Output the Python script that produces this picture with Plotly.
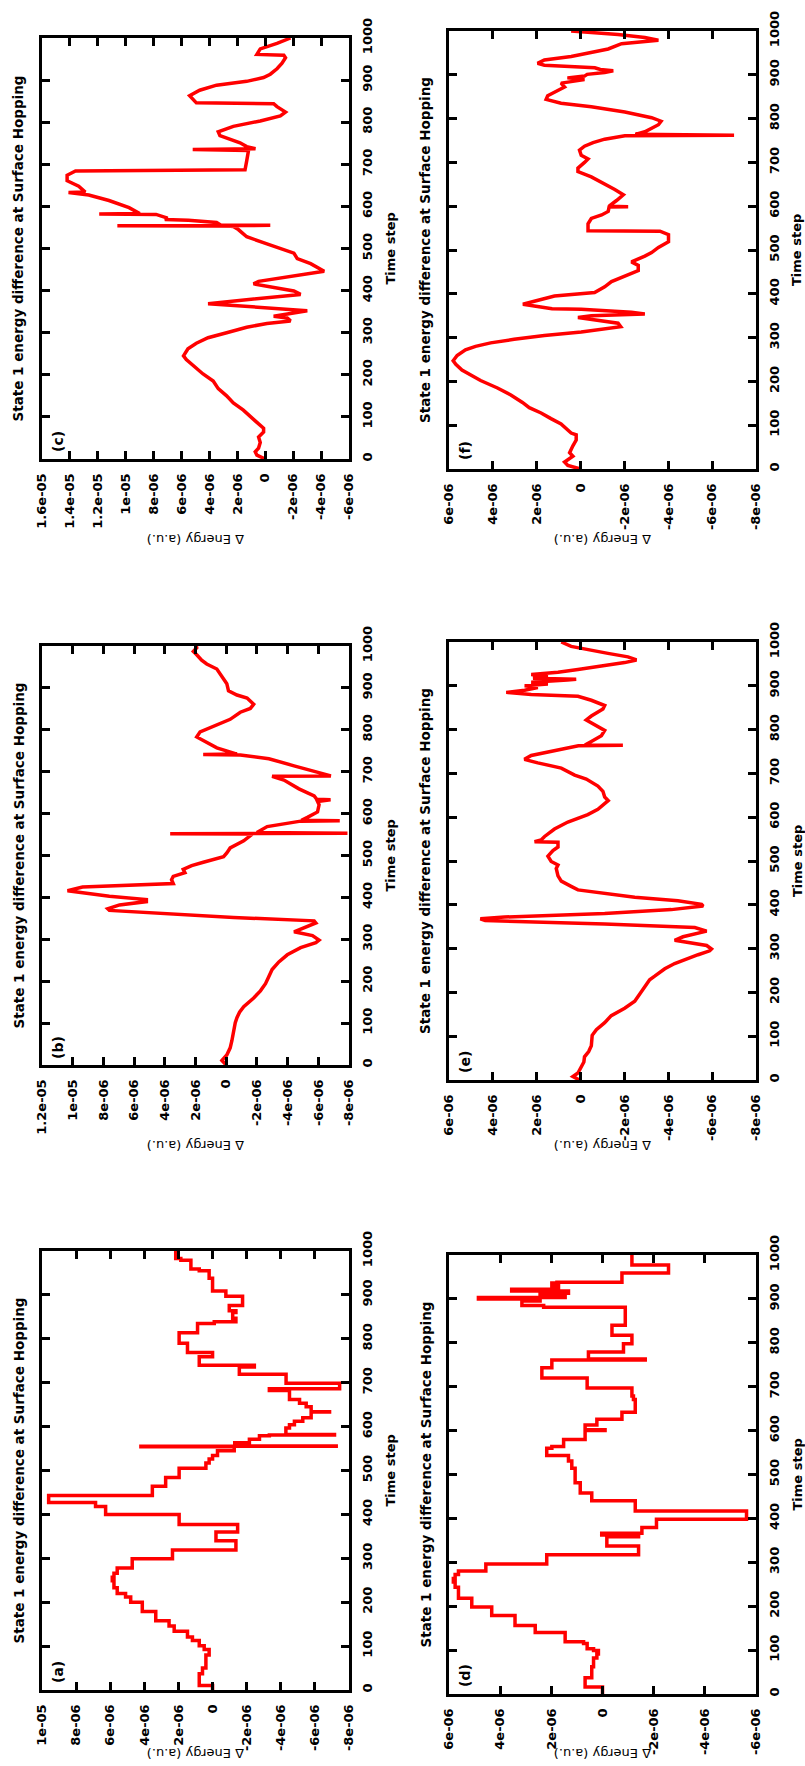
import plotly.graph_objects as go

W, H = 805, 1766

# ---------------- data (time step, energy in 1e-6 a.u.) ----------------
c_t = [0, 9, 17, 26, 39, 52, 64, 73, 94, 116, 133, 150, 167, 185, 202, 219, 236, 245, 262, 275,
       288, 300, 313, 322, 328, 335, 339, 352, 369, 391, 399, 416, 422, 446, 464, 476, 489, 511,
       528, 545, 552, 553, 554, 555, 556, 562, 567, 569, 572, 581, 582, 583, 597, 614, 627, 633,
       634, 648, 661, 674, 684, 687, 708, 725, 733, 735, 737, 742, 751, 768, 777, 790, 803, 815,
       824, 837, 844, 846, 863, 876, 888, 897, 906, 914, 927, 940, 953, 959, 961, 974, 987, 1000]
c_e = [0, 0.60, 0.72, 0.48, 0.36, 0.48, 0.12, 0.12, 0.84, 1.57, 2.29, 2.77, 3.37, 3.73, 4.46, 5.06,
       5.66, 5.86, 5.54, 4.94, 4.10, 2.77, 1.33, -0.12, -1.81, -1.57, -0.60, -3.01, 4.10, -2.53,
       -2.05, 0.84, 0.48, -4.22, -3.25, -2.29, -2.05, -0.12, 1.33, 1.93, 2.29, 2.5, 10.6, -0.36, 3.2,
       3.49, 5.5, 7.2, 7.0, 7.83, 11.9, 9.0, 9.76, 11.2, 12.65, 14.1, 12.9, 13.37, 14.2, 14.2, 13.6,
       1.45, 1.33, 1.2, 1.2, 5.2, 0.7, 1.33, 1.81, 3.25, 3.37, 2.29, 0.36, -1.08, -1.45, -0.84,
       -0.60, 4.94, 5.42, 4.70, 3.49, 1.33, 0.12, -0.36, -0.84, -1.20, -1.45, -1.33, 0.60, 0.36,
       -0.84, -1.81]

b_t = [0, 11, 24, 41, 58, 84, 101, 113, 126, 139, 160, 177, 194, 211, 228, 246, 263, 280, 292, 298,
       309, 318, 327, 339, 344, 352, 369, 373, 382, 390, 395, 403, 416, 425, 433, 442, 450, 459,
       467, 476, 484, 497, 506, 518, 535, 544, 551, 552, 553, 555, 565, 569, 582, 583, 584, 591,
       604, 621, 629, 633, 634, 642, 659, 680, 689, 690, 702, 714, 731, 740, 741, 742, 757, 774,
       783, 795, 808, 825, 842, 851, 861, 876, 883, 893, 910, 927, 945, 957, 966, 979, 987, 996, 1000]
b_e = [0, 0.28, -0.04, -0.26, -0.37, -0.48, -0.59, -0.70, -0.87, -1.14, -1.79, -2.23, -2.56, -2.78,
       -2.99, -3.43, -3.98, -4.85, -5.84, -6.05, -5.62, -4.42, -5.07, -5.84, -5.73, -0.48, 7.61,
       7.72, 6.95, 5.20, 5.20, 7.61, 10.34, 9.36, 3.45, 3.56, 3.45, 2.69, 2.80, 2.25, 1.49, 0.17,
       -0.04, -0.26, -1.14, -1.46, -1.7, 3.65, -7.9, -2.0, -2.45, -2.67, -4.85, -7.4, -4.9, -5.29,
       -5.95, -6.05, -5.95, -6.8, -5.9, -5.73, -4.74, -3.76, -2.99, -6.82, -5.51, -4.42, -2.78,
       -0.92, 1.5, -0.7, 0.61, 1.49, 1.92, 1.70, 0.83, -0.26, -0.92, -1.57, -1.79, -1.36, -0.70,
       -0.15, -0.04, 0.28, 0.61, 1.27, 1.60, 1.92, 2.14, 1.92, 1.95]

# step series: level starts at time t
a_t = [0, 10, 37, 50, 80, 92, 101, 113, 121, 134, 146, 158, 179, 200, 212, 220, 233, 249, 257, 266,
       278, 299, 319, 340, 360, 377, 400, 418, 427, 443, 464, 484, 505, 517, 526, 534, 545, 554,
       555, 556, 563, 571, 579, 581, 582, 597, 604, 612, 620, 633, 634, 645, 653, 662, 682, 686,
       699, 719, 736, 740, 759, 769, 790, 814, 835, 839, 847, 860, 864, 876, 897, 909, 938, 955,
       959, 979, 983, 1000]
a_e = [0, 0.78, 0.59, 0.39, 0.20, 0.49, 0.78, 1.18, 1.47, 2.25, 2.55, 3.33, 4.12, 4.80, 5.10, 5.59,
       5.78, 5.88, 5.78, 5.59, 4.71, 2.35, -1.37, -0.20, -1.47, 1.96, 6.27, 6.86, 9.61, 3.53, 2.75,
       1.96, 0.39, 0.20, 0.0, -0.29, -1.27, 4.2, -7.25, -1.3, -2.16, -2.75, -3.33, -7.15, -4.3,
       -4.51, -4.80, -5.29, -5.78, -6.86, -5.78, -5.49, -5.10, -4.51, -3.33, -7.45, -4.31, -1.57,
       -2.45, 0.78, 0.0, 1.47, 1.96, 0.88, -0.10, -1.37, -1.18, -1.37, -0.98, -1.76, -0.78, 0.0,
       0.20, 0.78, 1.27, 1.86, 2.16, 2.16]

f_t = [0, 8, 16, 21, 29, 37, 45, 53, 66, 78, 82, 95, 103, 115, 128, 140, 152, 169, 185, 202, 214,
       226, 239, 247, 259, 272, 280, 288, 296, 305, 313, 321, 325, 333, 342, 346, 350, 354, 358,
       365, 366, 370, 376, 383, 395, 403, 416, 428, 440, 453, 465, 473, 486, 494, 506, 519, 535,
       543, 544, 560, 572, 580, 588, 598, 599, 600, 613, 626, 638, 650, 667, 679, 687, 700, 708,
       716, 728, 737, 745, 753, 761, 762, 764, 770, 778, 786, 794, 802, 815, 827, 835, 844, 852,
       864, 872, 881, 885, 889, 893, 897, 901, 905, 909, 912, 916, 922, 926, 934, 942, 951, 959,
       971, 979, 985, 992, 1000]
f_e = [0, 0.58, 0.73, 0.58, 0.35, 0.50, 0.43, 0.35, 0.20, 0.20, 0.43, 0.73, 0.89, 1.35, 1.80, 2.34,
       2.65, 3.18, 3.79, 4.56, 5.02, 5.41, 5.69, 5.81, 5.63, 5.25, 4.79, 4.10, 3.03, 1.65, -0.03,
       -1.41, -1.83, -1.71, -0.49, 0.12, -0.49, -2.93, -2.32, -0.03, 1.3, 1.96, 2.63, 2.11, 1.19,
       -0.64, -1.10, -1.41, -2.02, -2.63, -2.63, -2.32, -2.93, -3.24, -3.55, -4.01, -4.01, -3.62,
       -0.34, -0.34, -0.49, -0.96, -1.26, -1.3, -2.17, -1.3, -1.64, -1.95, -1.56, -1.10, -0.49,
       0.12, 0.12, -0.18, -0.34, -0.03, 0.05, -0.18, -0.57, -1.10, -2.02, -7.0, -2.5, -2.93, -3.24,
       -3.55, -3.67, -3.24, -2.02, -0.49, 0.89, 1.57, 1.50, 1.04, 0.73, 0.89, 0.3, -0.18, 0.6,
       -0.18, -0.3, -1.10, -1.49, -0.9, -0.65, 1.65, 1.96, 1.65, 0.43, -0.49, -1.26, -1.87, -3.55,
       -2.93, -1.71, 0.43]

e_t = [0, 8, 16, 29, 41, 53, 65, 78, 94, 102, 115, 131, 147, 164, 180, 196, 213, 229, 237, 254, 266,
       278, 286, 295, 299, 307, 315, 319, 327, 335, 340, 348, 356, 364, 368, 372, 380, 389, 397,
       401, 409, 417, 426, 434, 442, 454, 466, 483, 491, 499, 511, 524, 532, 543, 544, 548, 556,
       573, 589, 599, 606, 618, 630, 638, 646, 659, 671, 687, 696, 712, 724, 732, 741, 749, 761,
       763, 764, 765, 773, 786, 798, 810, 822, 831, 847, 855, 867, 876, 880, 885, 890, 896, 900,
       904, 908, 913, 915, 917, 921, 926, 931, 937, 945, 953, 959, 966, 974, 982, 990, 1000]
e_e = [0.05, 0.35, 0.12, -0.03, -0.15, -0.18, -0.37, -0.49, -0.49, -0.53, -0.72, -1.10, -1.40,
       -2.01, -2.47, -2.70, -2.92, -3.15, -3.38, -3.84, -4.29, -4.90, -5.36, -5.89, -5.97, -5.75,
       -4.60, -4.29, -4.67, -5.36, -5.75, -5.21, -1.10, 4.35, 4.57, 3.47, -1.10, -4.14, -5.59,
       -5.52, -4.44, -2.47, -1.10, 0.12, 0.43, 0.88, 1.03, 1.11, 1.03, 1.34, 1.49, 1.26, 1.03, 1.03,
       2.10, 1.80, 1.64, 1.19, 0.58, -0.03, -0.33, -0.79, -1.10, -1.26, -1.10, -1.02, -0.79, -0.26,
       0.27, 0.88, 1.95, 2.56, 2.25, 1.49, 0.43, 0.1, -1.93, -0.2, -0.49, -0.95, -1.10, -0.64,
       -0.26, -0.49, -1.02, -1.10, -0.49, 0.12, 2.25, 3.39, 2.55, 1.95, 2.55, 1.49, 2.25, 0.6, 0.2,
       2.17, 1.49, 2.25, 1.03, 0.12, -0.95, -2.01, -2.55, -2.16, -1.25, -0.33, 0.43, 0.88]

d_t = [0, 16, 37, 62, 82, 91, 99, 103, 115, 119, 140, 156, 179, 198, 218, 243, 255, 263, 272, 280,
       296, 317, 337, 358, 362, 366, 379, 398, 417, 440, 458, 481, 514, 531, 543, 560, 564, 580,
       600, 602, 613, 626, 642, 671, 679, 697, 720, 743, 761, 763, 779, 798, 817, 840, 881, 885,
       895, 900, 903, 909, 913, 918, 922, 930, 936, 938, 959, 977, 1000]
d_e = [0, 0.68, 0.42, 0.35, 0.22, 0.16, 0.35, 0.60, 0.74, 1.46, 2.63, 3.42, 4.33, 5.11, 5.63, 5.76,
       5.83, 5.76, 5.63, 4.56, 2.18, -1.41, -0.17, -1.41, 0.03, -1.54, -2.11, -5.63, -1.28, 0.42,
       0.87, 1.07, 1.20, 1.33, 2.18, 1.98, 1.52, 0.68, -0.10, 0.68, 0.22, -0.76, -1.28, -1.21,
       -1.15, 0.60, 2.37, 1.98, -1.67, 0.55, -0.82, -1.15, -0.37, -0.89, 2.30, 3.15, 2.44, 4.85,
       1.46, 2.44, 1.33, 3.55, 1.72, 1.98, 1.78, -0.76, -2.58, -1.15, -1.15]

time_ticks = list(range(0, 1001, 100))

# ---------------- panel layout (frame pixels: left, right, top, bottom) ----------------
panels = [
    dict(lab="(c)", t=c_t, e=c_e, shape="linear", box=(42, 349, 38, 459), ylab=540,
         emax=16, emin=-6, etext=["1.6e-05", "1.4e-05", "1.2e-05", "1e-05", "8e-06", "6e-06",
                                 "4e-06", "2e-06", "0", "-2e-06", "-4e-06", "-6e-06"]),
    dict(lab="(b)", t=b_t, e=b_e, shape="linear", box=(42, 349, 646, 1065), ylab=1146,
         emax=12, emin=-8, etext=["1.2e-05", "1e-05", "8e-06", "6e-06", "4e-06", "2e-06", "0",
                                 "-2e-06", "-4e-06", "-6e-06", "-8e-06"]),
    dict(lab="(a)", t=a_t, e=a_e, shape="vh", box=(42, 349, 1251, 1690), ylab=1754,
         emax=10, emin=-8, etext=["1e-05", "8e-06", "6e-06", "4e-06", "2e-06", "0", "-2e-06",
                                 "-4e-06", "-6e-06", "-8e-06"]),
    dict(lab="(f)", t=f_t, e=f_e, shape="linear", box=(449, 756, 31, 469), ylab=540,
         emax=6, emin=-8, etext=["6e-06", "4e-06", "2e-06", "0", "-2e-06", "-4e-06", "-6e-06",
                                "-8e-06"]),
    dict(lab="(e)", t=e_t, e=e_e, shape="linear", box=(449, 756, 642, 1080), ylab=1146,
         emax=6, emin=-8, etext=["6e-06", "4e-06", "2e-06", "0", "-2e-06", "-4e-06", "-6e-06",
                                "-8e-06"]),
    dict(lab="(d)", t=d_t, e=d_e, shape="vh", box=(449, 756, 1255, 1694), ylab=1754,
         emax=6, emin=-6, etext=["6e-06", "4e-06", "2e-06", "0", "-2e-06", "-4e-06", "-6e-06"]),
]

TITLE = "State 1 energy difference at Surface Hopping"
FONT = "DejaVu Sans"


def px(x):
    return x / W


def py(y):
    return 1 - y / H


fig = go.Figure()
annotations = []
layout = {}

for i, p in enumerate(panels, start=1):
    l, r, t, b = p["box"]
    xa = "x" if i == 1 else f"x{i}"
    ya = "y" if i == 1 else f"y{i}"
    fig.add_trace(go.Scatter(
        x=[v * 1e-6 for v in p["e"]], y=p["t"], mode="lines",
        line=dict(color="#ff0000", width=3.5, shape=p["shape"]),
        xaxis=xa, yaxis=ya, showlegend=False, hoverinfo="skip"))
    evals = [(p["emax"] - 2 * k) * 1e-6 for k in range(len(p["etext"]))]
    common = dict(showline=True, linecolor="black", linewidth=3.3, mirror="ticks",
                  ticks="inside", ticklen=8, tickwidth=2.5, tickcolor="black",
                  showgrid=False, zeroline=False, tickangle=-90, automargin=False,
                  tickfont=dict(family=FONT, size=13, color="black", weight="bold"))
    layout["xaxis" if i == 1 else f"xaxis{i}"] = dict(
        domain=[px(l), px(r)], range=[p["emax"] * 1e-6, p["emin"] * 1e-6],
        anchor=ya, tickmode="array", tickvals=evals, ticktext=p["etext"],
        ticklabelstandoff=6, **common)
    layout["yaxis" if i == 1 else f"yaxis{i}"] = dict(
        domain=[py(b), py(t)], range=[0, 1000], anchor=xa, side="right",
        tickmode="array", tickvals=time_ticks, ticktext=[str(v) for v in time_ticks],
        ticklabelstandoff=4, **common)
    cy = (t + b) / 2
    annotations += [
        dict(text=TITLE, x=px(l - 24), y=py(cy), textangle=-90,
             font=dict(family=FONT, size=13.5, color="black", weight="bold")),
        dict(text="Time step", x=px(r + 41), y=py(cy), textangle=-90,
             font=dict(family=FONT, size=13, color="black", weight="bold")),
        dict(text="Δ Energy (a.u.)", x=px((l + r) / 2), y=py(p["ylab"]), textangle=180,
             font=dict(family=FONT, size=13, color="black")),
        dict(text=p["lab"], x=px(l + 16), y=py(b - 18), textangle=-90,
             font=dict(family=FONT, size=14, color="black", weight="bold")),
    ]

for a in annotations:
    a.update(xref="paper", yref="paper", showarrow=False, xanchor="center", yanchor="middle")

fig.update_layout(width=W, height=H, margin=dict(l=0, r=0, t=0, b=0, autoexpand=False),
                  paper_bgcolor="white", plot_bgcolor="white",
                  annotations=annotations, showlegend=False, **layout)

fig.write_html("out.html", config={"displayModeBar": False},
               post_script="document.documentElement.style.margin='0';"
                           "document.body.style.margin='0';"
                           "document.body.style.overflow='hidden';"
                           "window.scrollTo(0,0);")
